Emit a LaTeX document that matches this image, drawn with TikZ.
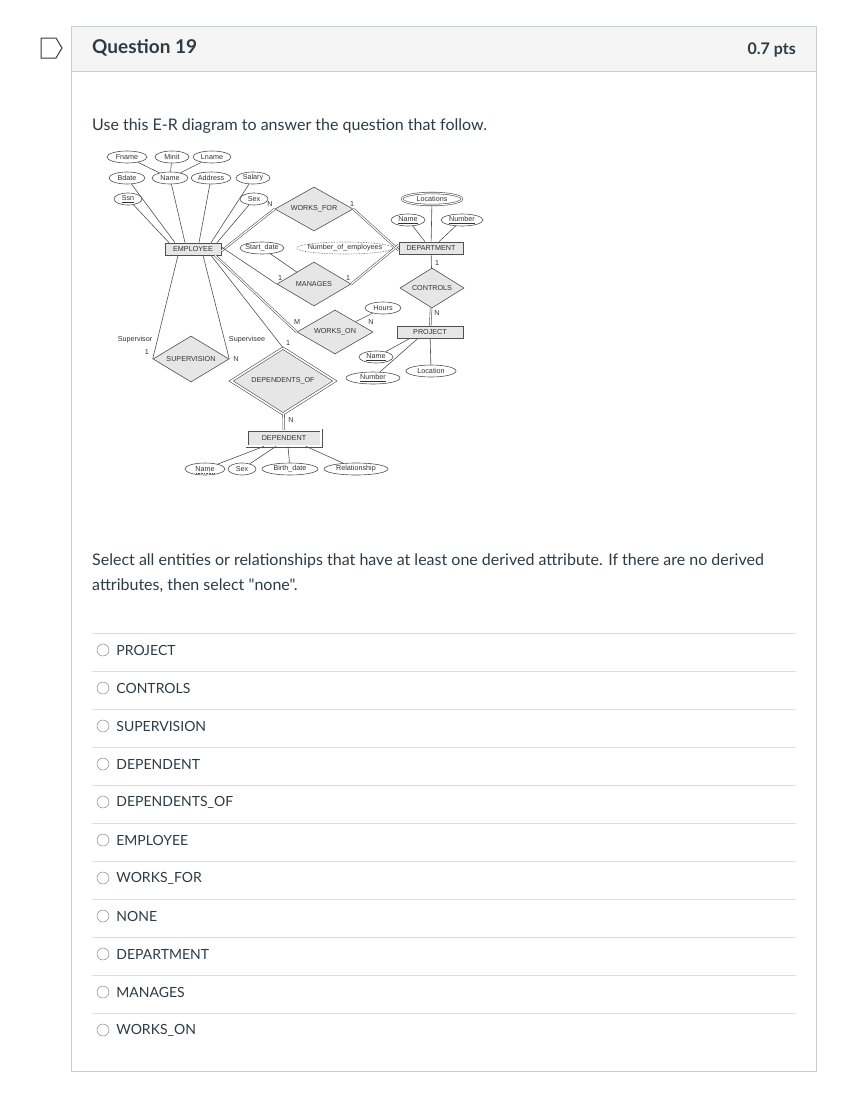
\documentclass[tikz,border=0pt]{standalone}
\usepackage{fontspec}
\setmainfont{Lato}[Ligatures=TeXOff]
\newfontfamily\erfamily{Liberation Sans}
\usetikzlibrary{shapes.geometric,positioning,calc}
\definecolor{framecolor}{RGB}{199,205,209}
\definecolor{headcolor}{RGB}{245,245,245}
\definecolor{rulecolor}{RGB}{221,221,221}
\definecolor{inkcolor}{RGB}{45,59,69}
\definecolor{shapefill}{RGB}{230,230,230}
\definecolor{erline}{RGB}{80,80,80}
% text of zero width, so an ellipse keeps the size it is given
\newcommand{\zw}[1]{\makebox[0pt]{#1}}

\begin{document}
\begin{tikzpicture}[x=1pt,y=-1pt,
    every node/.style={text=inkcolor},
    ertext/.style={font=\erfamily\fontsize{7.2}{8}\selectfont,text=black!80},
    attr/.style={ertext,draw=erline,line width=0.6pt,ellipse,fill=white,
                 inner sep=0pt,minimum height=12pt},
    ent/.style={ertext,draw=erline,line width=0.7pt,fill=shapefill,inner sep=0pt,
                minimum height=12pt},
    rel/.style={ertext,draw=erline,line width=0.6pt,diamond,fill=shapefill,
                inner sep=0pt,aspect=2},
    card/.style={ertext,inner sep=0pt},
    link/.style={draw=erline,line width=0.6pt},
    total/.style={draw=erline,double=white,double distance=1.2pt,line width=0.55pt},
    body/.style={anchor=base west,inner sep=0pt,font=\fontsize{16}{19}\selectfont},
    option/.style={font=\fontsize{14}{16}\selectfont,anchor=west,inner sep=0pt},
    radio/.style={circle,draw=black!55,minimum size=12pt,inner sep=0pt}]

  \useasboundingbox (0,0) rectangle (848,1098);

  % Question frame and header
  \fill[headcolor] (71,26) rectangle (816,71);
  \draw[framecolor,line width=1pt] (71,26) rectangle (816,1071);
  \draw[framecolor,line width=1pt] (71,71) -- (816,71);
  \draw[inkcolor,line width=1pt,line join=round]
    (41,38) -- (56,38) -- (62,48) -- (56,58) -- (41,58) -- cycle;
  \node[anchor=base west,inner sep=0pt,font=\fontsize{19}{21}\selectfont\bfseries]
    (qtitle) at (92,53) {Question 19};
  \node[anchor=base east,inner sep=0pt,font=\fontsize{16}{18}\selectfont\bfseries]
    (qpts) at (796,54) {0.7 pts};
  \node[body] (intro) at (92,130) {Use this E-R diagram to answer the question that follow.};

  % E-R diagram: EMPLOYEE and its attributes
  \node[attr,minimum width=40pt] (fname)   at (127,157) {\zw{Fname}};
  \node[attr,minimum width=34pt] (minit)   at (172,157) {\zw{Minit}};
  \node[attr,minimum width=38pt] (lname)   at (212,157) {\zw{Lname}};
  \node[attr,minimum width=36pt] (bdate)   at (127,178) {\zw{Bdate}};
  \node[attr,minimum width=36pt] (ename)   at (170,178) {\zw{Name}};
  \node[attr,minimum width=40pt] (address) at (211,178) {\zw{Address}};
  \node[attr,minimum width=34pt] (salary)  at (253,178) {\zw{Salary}};
  \node[attr,minimum width=28pt] (ssn)     at (128,199) {\zw{\underline{Ssn}}};
  \node[attr,minimum width=28pt] (esex)    at (254,199) {\zw{Sex}};
  \node[ent,minimum width=56pt]  (emp)     at (193,249) {EMPLOYEE};

  \draw[link] (fname) -- (ename);
  \draw[link] (minit) -- (ename);
  \draw[link] (lname) -- (ename);
  \draw[link] (bdate) -- ([xshift=-18pt]emp.north);
  \draw[link] (ename) -- ([xshift=-8pt]emp.north);
  \draw[link] (address) -- ([xshift=6pt]emp.north);
  \draw[link] (salary) -- ([xshift=18pt]emp.north);
  \draw[link] (ssn) -- ([xshift=-24pt]emp.north);
  \draw[link] (esex) -- ([xshift=24pt]emp.north);

  % DEPARTMENT and its attributes
  \node[attr,minimum width=60pt,double,double distance=1pt] (locations) at (432,199) {\zw{Locations}};
  \node[attr,minimum width=34pt] (dname)   at (408,220) {\zw{\underline{Name}}};
  \node[attr,minimum width=42pt] (dnumber) at (462,220) {\zw{\underline{Number}}};
  \node[ent,minimum width=64pt]  (dept)    at (431,248) {DEPARTMENT};
  \node[attr,minimum width=96pt,densely dotted] (numemp) at (345,248) {\zw{Number\_of\_employees}};
  \draw[link] (locations) -- (dept);
  \draw[link] (dname) -- ([xshift=-6pt]dept.north);
  \draw[link] (dnumber) -- ([xshift=8pt]dept.north);
  \draw[link] (numemp) -- (dept);

  % WORKS_FOR and MANAGES
  \node[rel,minimum width=78pt,minimum height=44pt] (worksfor) at (314,209) {WORKS\_FOR};
  \node[rel,minimum width=74pt,minimum height=44pt] (manages)  at (314,284) {MANAGES};
  \node[attr,minimum width=44pt] (startdate) at (262,248) {\zw{Start\_date}};
  \draw[total] ([yshift=-2pt]emp.east) -- (worksfor.west);
  \draw[total] (worksfor.east) -- ([yshift=-2pt]dept.west);
  \draw[link] ([yshift=2pt]emp.east) -- (manages.west);
  \draw[total] (manages.east) -- ([yshift=3pt]dept.west);
  \draw[link] (startdate) -- (manages);
  \node[card] (cwf1) at (270,204) {N};
  \node[card] (cwf2) at (352,204) {1};
  \node[card] (cmg1) at (280,278) {1};
  \node[card] (cmg2) at (348,278) {1};

  % CONTROLS and PROJECT
  \node[rel,minimum width=64pt,minimum height=40pt] (controls) at (432,288) {CONTROLS};
  \node[ent,minimum width=66pt] (proj) at (430,332) {PROJECT};
  \node[attr,minimum width=34pt] (pname)     at (376,357) {\zw{\underline{Name}}};
  \node[attr,minimum width=54pt] (pnumber)   at (373,378) {\zw{\underline{Number}}};
  \node[attr,minimum width=50pt] (plocation) at (431,371) {\zw{Location}};
  \draw[link] (dept) -- (controls);
  \draw[total] (controls) -- (proj);
  \draw[link] (pname) -- ([xshift=-20pt]proj.south);
  \draw[link] (pnumber) -- ([xshift=-12pt]proj.south);
  \draw[link] (plocation) -- (proj);
  \node[card] (cct1) at (437,263) {1};
  \node[card] (cct2) at (437,313) {N};

  % WORKS_ON
  \node[rel,minimum width=76pt,minimum height=44pt] (workson) at (335,332) {WORKS\_ON};
  \node[attr,minimum width=36pt] (hours) at (383,308) {\zw{Hours}};
  \draw[total] ([xshift=22pt]emp.south) -- (workson.west);
  \draw[total] (workson.east) -- (proj.west);
  \draw[link] (hours) -- (workson);
  \node[card] (cwo1) at (297,322) {M};
  \node[card] (cwo2) at (371,322) {N};

  % SUPERVISION (recursive)
  \node[rel,minimum width=76pt,minimum height=46pt] (supervision) at (191,359) {SUPERVISION};
  \draw[link] ([xshift=-15pt]emp.south) -- (supervision.west);
  \draw[link] ([xshift=10pt]emp.south) -- (supervision.east);
  \node[card] (csupr) at (135,340) {Supervisor};
  \node[card] (csupe) at (247,340) {Supervisee};
  \node[card] (csp1) at (147,352) {1};
  \node[card] (csp2) at (236,359) {N};

  % DEPENDENTS_OF and DEPENDENT (weak)
  \node[rel,minimum width=104pt,minimum height=66pt,double,double distance=1.6pt]
    (depof) at (283,381) {DEPENDENTS\_OF};
  \node[ent,minimum width=74pt,minimum height=16pt,double,double distance=1.6pt]
    (dep) at (284,438) {DEPENDENT};
  \draw[link] ([xshift=18pt]emp.south) -- (depof.north);
  \draw[total] (depof) -- (dep);
  \node[card] (cdp1) at (288,343) {1};
  \node[card] (cdp2) at (291,420) {N};
  \node[attr,minimum width=40pt] (depname) at (205,469) {\zw{Name}};
  \node[attr,minimum width=28pt] (depsex)  at (242,469) {\zw{Sex}};
  \node[attr,minimum width=56pt] (bdate2)  at (290,469) {\zw{Birth\_date}};
  \node[attr,minimum width=64pt] (relship) at (356,469) {\zw{Relationship}};
  \draw[erline,densely dotted,line width=0.6pt]
    ($(depname.center)+(-9,4)$) -- ($(depname.center)+(9,4)$);
  \draw[link] (depname) -- ([xshift=-20pt]dep.south);
  \draw[link] (depsex) -- ([xshift=-8pt]dep.south);
  \draw[link] (bdate2) -- ([xshift=4pt]dep.south);
  \draw[link] (relship) -- ([xshift=22pt]dep.south);

  % Question text
  \node[body] (ask1) at (92,565)
    {Select all entities or relationships that have at least one derived attribute. If there are no derived};
  \node[body] (ask2) at (92,590) {attributes, then select "none".};

  % Answer options
  \foreach \lbl [count=\i from 0] in {PROJECT,CONTROLS,SUPERVISION,DEPENDENT,
      DEPENDENTS\_OF,EMPLOYEE,WORKS\_FOR,NONE,DEPARTMENT,MANAGES,WORKS\_ON} {
    \draw[rulecolor,line width=1pt] (92,633+38*\i) -- (796,633+38*\i);
    \node[radio] (r\i) at (103,650+38*\i) {};
    \node[option,right=7pt of r\i] (o\i) {\lbl};
  }

\end{tikzpicture}
\end{document}
